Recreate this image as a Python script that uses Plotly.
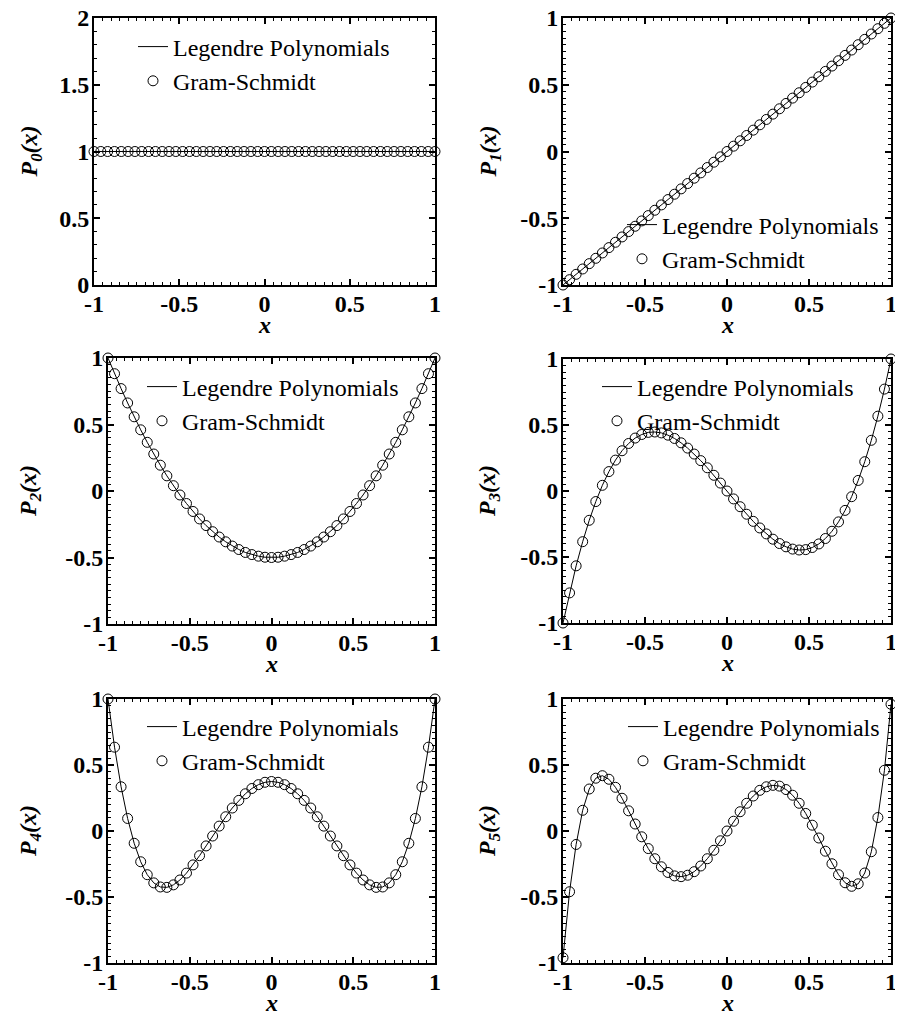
import plotly.graph_objects as go

W, H = 895, 1005   # page is 903x1013 with an 8px body margin
OFF = 8

X = [-1.00, -0.96, -0.92, -0.88, -0.84, -0.80, -0.76, -0.72, -0.68, -0.64,
     -0.60, -0.56, -0.52, -0.48, -0.44, -0.40, -0.36, -0.32, -0.28, -0.24,
     -0.20, -0.16, -0.12, -0.08, -0.04, 0.00, 0.04, 0.08, 0.12, 0.16,
     0.20, 0.24, 0.28, 0.32, 0.36, 0.40, 0.44, 0.48, 0.52, 0.56,
     0.60, 0.64, 0.68, 0.72, 0.76, 0.80, 0.84, 0.88, 0.92, 0.96, 1.00]

P0 = [1.0, 1.0, 1.0, 1.0, 1.0, 1.0, 1.0, 1.0, 1.0, 1.0,
      1.0, 1.0, 1.0, 1.0, 1.0, 1.0, 1.0, 1.0, 1.0, 1.0,
      1.0, 1.0, 1.0, 1.0, 1.0, 1.0, 1.0, 1.0, 1.0, 1.0,
      1.0, 1.0, 1.0, 1.0, 1.0, 1.0, 1.0, 1.0, 1.0, 1.0,
      1.0, 1.0, 1.0, 1.0, 1.0, 1.0, 1.0, 1.0, 1.0, 1.0, 1.0]

P1 = [-1.00, -0.96, -0.92, -0.88, -0.84, -0.80, -0.76, -0.72, -0.68, -0.64,
      -0.60, -0.56, -0.52, -0.48, -0.44, -0.40, -0.36, -0.32, -0.28, -0.24,
      -0.20, -0.16, -0.12, -0.08, -0.04, 0.00, 0.04, 0.08, 0.12, 0.16,
      0.20, 0.24, 0.28, 0.32, 0.36, 0.40, 0.44, 0.48, 0.52, 0.56,
      0.60, 0.64, 0.68, 0.72, 0.76, 0.80, 0.84, 0.88, 0.92, 0.96, 1.00]

P2 = [1.0, 0.882, 0.770, 0.662, 0.558, 0.460, 0.366, 0.278, 0.194, 0.114,
      0.040, -0.030, -0.094, -0.154, -0.210, -0.260, -0.306, -0.346, -0.382, -0.414,
      -0.440, -0.462, -0.478, -0.490, -0.498, -0.500, -0.498, -0.490, -0.478, -0.462,
      -0.440, -0.414, -0.382, -0.346, -0.306, -0.260, -0.210, -0.154, -0.094, -0.030,
      0.040, 0.114, 0.194, 0.278, 0.366, 0.460, 0.558, 0.662, 0.770, 0.882, 1.0]

P3 = [-1.0, -0.772, -0.567, -0.384, -0.222, -0.080, 0.043, 0.147, 0.234, 0.305,
      0.360, 0.401, 0.428, 0.444, 0.447, 0.440, 0.423, 0.398, 0.365, 0.325,
      0.280, 0.230, 0.176, 0.119, 0.060, 0.0, -0.060, -0.119, -0.176, -0.230,
      -0.280, -0.325, -0.365, -0.398, -0.423, -0.440, -0.447, -0.444, -0.428, -0.401,
      -0.360, -0.305, -0.234, -0.147, -0.043, 0.080, 0.222, 0.384, 0.567, 0.772, 1.0]

P4 = [1.0, 0.635, 0.335, 0.095, -0.093, -0.233, -0.331, -0.393, -0.424, -0.427,
      -0.408, -0.371, -0.319, -0.257, -0.187, -0.113, -0.038, 0.037, 0.108, 0.174,
      0.232, 0.282, 0.322, 0.351, 0.369, 0.375, 0.369, 0.351, 0.322, 0.282,
      0.232, 0.174, 0.108, 0.037, -0.038, -0.113, -0.187, -0.257, -0.319, -0.371,
      -0.408, -0.427, -0.424, -0.393, -0.331, -0.233, -0.093, 0.095, 0.335, 0.635, 1.0]

P5 = [-0.960, -0.460, -0.102, 0.157, 0.318, 0.400, 0.419, 0.392, 0.331, 0.248,
      0.153, 0.053, -0.044, -0.133, -0.210, -0.271, -0.314, -0.340, -0.346, -0.335,
      -0.308, -0.265, -0.210, -0.146, -0.074, 0.0, 0.074, 0.146, 0.210, 0.265,
      0.308, 0.335, 0.346, 0.340, 0.314, 0.271, 0.210, 0.133, 0.044, -0.053,
      -0.153, -0.248, -0.331, -0.392, -0.419, -0.400, -0.318, -0.157, 0.102, 0.460, 0.960]

SERIES = [P0, P1, P2, P3, P4, P5]
YRANGES = [[0, 2], [-1, 1], [-1, 1], [-1, 1], [-1, 1], [-1, 1]]
YTICKS = [[0, 0.5, 1, 1.5, 2], [-1, -0.5, 0, 0.5, 1], [-1, -0.5, 0, 0.5, 1],
          [-1, -0.5, 0, 0.5, 1], [-1, -0.5, 0, 0.5, 1], [-1, -0.5, 0, 0.5, 1]]
YTICKTEXT = [["0", "0.5", "1", "1.5", "2"]] + [["-1", "-0.5", "0", "0.5", "1"]] * 5
YMINOR = [0.1, 0.05, 0.05, 0.05, 0.05, 0.05]
XTICKS = [-1, -0.5, 0, 0.5, 1]
XTICKTEXT = ["-1", "-0.5", "0", "0.5", "1"]
LINE_NAME = "Legendre Polynomials"
MARK_NAME = "Gram-Schmidt"

# panel boxes in page pixels: left, right, top, bottom
BOXES = [(94, 435, 18, 285), (563, 891, 18, 285),
         (108, 435, 358, 624), (563, 891, 359, 623),
         (108, 435, 699, 963), (563, 891, 699, 963)]
# legend text start x and first-row centre y in page pixels
LEG = [(173, 50), (662, 228), (182, 390), (637, 390), (182, 730), (663, 730)]

SERIF = "Liberation Serif, Times New Roman, serif"


def fx(p):
    return (p - OFF) / W


def fy(p):
    return 1 - (p - OFF) / H


fig = go.Figure()
layout = dict(width=W, height=H, margin=dict(l=0, r=0, t=0, b=0, autoexpand=False),
              paper_bgcolor="white", plot_bgcolor="white", showlegend=True,
              font=dict(family=SERIF, color="black"))
annotations = []

for i, (ys, box) in enumerate(zip(SERIES, BOXES)):
    n = "" if i == 0 else str(i + 1)
    lg = "legend" + n
    fig.add_trace(go.Scatter(x=X, y=ys, mode="lines", name=LINE_NAME,
                             line=dict(color="black", width=1),
                             xaxis="x" + n, yaxis="y" + n, legend=lg))
    fig.add_trace(go.Scatter(x=X, y=ys, mode="markers", name=MARK_NAME,
                             marker=dict(symbol="circle-open", size=10,
                                         color="black", line=dict(width=1)),
                             cliponaxis=False,
                             xaxis="x" + n, yaxis="y" + n, legend=lg))
    l, r, t, b = box
    common = dict(showline=True, linecolor="black", linewidth=2, mirror="ticks",
                  ticks="inside", ticklen=6, tickwidth=1.5, tickcolor="black",
                  showgrid=False, zeroline=False, automargin=False,
                  ticklabeloverflow="allow",
                  tickfont=dict(family=SERIF, size=24, color="black", weight="bold"))
    layout["xaxis" + n] = dict(common, domain=[fx(l), fx(r)], range=[-1, 1],
                               anchor="y" + n, tickvals=XTICKS, ticktext=XTICKTEXT,
                               ticklabelstandoff=-4,
                               minor=dict(dtick=0.05, tick0=-1, ticks="inside",
                                          ticklen=3, tickwidth=1, tickcolor="black"))
    layout["yaxis" + n] = dict(common, domain=[fy(b), fy(t)], range=YRANGES[i],
                               anchor="x" + n, tickvals=YTICKS[i], ticktext=YTICKTEXT[i],
                               ticklabelstandoff=-2,
                               minor=dict(dtick=YMINOR[i], tick0=YRANGES[i][0],
                                          ticks="inside", ticklen=3, tickwidth=1,
                                          tickcolor="black"))
    tx0, ry = LEG[i]
    layout[lg] = dict(x=fx(tx0 - 40), y=fy(ry - 1.5 - 24), xanchor="left", yanchor="top",
                      bgcolor="rgba(0,0,0,0)", borderwidth=0, traceorder="normal",
                      tracegroupgap=0,
                      font=dict(family=SERIF, size=24, color="black"))
    # axis titles
    annotations.append(dict(text="<b><i>x</i></b>", xref="paper", yref="paper",
                            x=fx((l + r) / 2), y=fy(b + 40),
                            showarrow=False, xanchor="center", yanchor="middle",
                            font=dict(family=SERIF, size=24, color="black")))
    tx = 30 if l < 200 else 489
    annotations.append(dict(text="<b><i>P<sub>%d</sub>(x)</i></b>" % i,
                            xref="paper", yref="paper",
                            x=fx(tx), y=fy((t + b) / 2), textangle=-90,
                            showarrow=False, xanchor="center", yanchor="middle",
                            font=dict(family=SERIF, size=24, color="black")))

layout["annotations"] = annotations
fig.update_layout(**layout)
fig.write_html("out.html")
